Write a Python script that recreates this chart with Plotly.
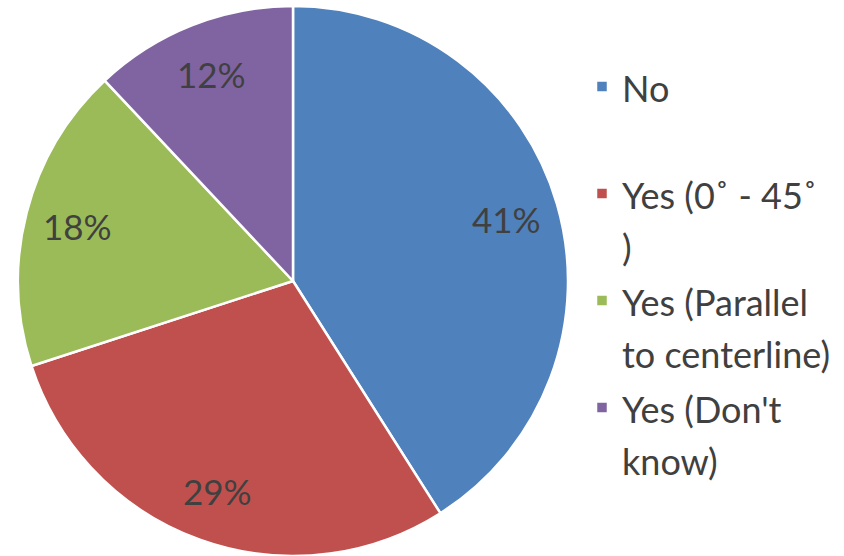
import math
import plotly.graph_objects as go

# Survey answer categories and their shares (percent)
labels = ["No", "Yes (0˚ - 45˚<br>)", "Yes (Parallel<br>to centerline)", "Yes (Don't<br>know)"]
values = [41, 29, 18, 12]
colors = ["#4F81BD", "#C0504D", "#9BBB59", "#8064A2"]

W, H = 844, 556
FONT = "Lato"
TEXT = "#404040"

# pie placement (paper fractions)
dom_x = [18 / W, 568 / W]
dom_y = [0, 550 / H]

# legend text is drawn a bit smaller than the legend font so rows get more air
legend_labels = [
    '<span style="font-size:36px">' + lab.replace("<br>", '</span><br><span style="font-size:36px">') + "</span>"
    for lab in labels
]
legend_labels[0] += "<br>&nbsp;"

fig = go.Figure(
    go.Pie(
        labels=legend_labels,
        values=values,
        sort=False,
        direction="clockwise",
        rotation=0,
        marker=dict(colors=colors, line=dict(color="white", width=2.5)),
        textinfo="none",
        domain=dict(x=dom_x, y=dom_y),
        hoverinfo="percent",
    )
)

# percentage labels placed along each slice's mid-angle
total = sum(values)
cx = (dom_x[0] + dom_x[1]) / 2 * W
cy = (dom_y[0] + dom_y[1]) / 2 * H
radius = min((dom_x[1] - dom_x[0]) * W, (dom_y[1] - dom_y[0]) * H) / 2
cum = 0
for v in values:
    mid = (cum + v / 2) / total * 2 * math.pi
    cum += v
    px = cx + 0.81 * radius * math.sin(mid)
    py = cy + 0.81 * radius * math.cos(mid)
    fig.add_annotation(
        x=px / W, y=py / H, xref="paper", yref="paper",
        xanchor="center", yanchor="middle",
        text=f"{round(v / total * 100)}%", showarrow=False,
        font=dict(family=FONT, size=35, color=TEXT),
    )

fig.update_layout(
    width=W,
    height=H,
    margin=dict(l=0, r=0, t=0, b=0),
    paper_bgcolor="white",
    font=dict(family=FONT, color=TEXT),
    legend=dict(
        x=582 / W,
        y=1 - 54 / H,
        xanchor="left",
        yanchor="top",
        valign="top",
        font=dict(family=FONT, size=40, color=TEXT),
        bgcolor="rgba(0,0,0,0)",
    ),
)

fig.write_html("out.html")
